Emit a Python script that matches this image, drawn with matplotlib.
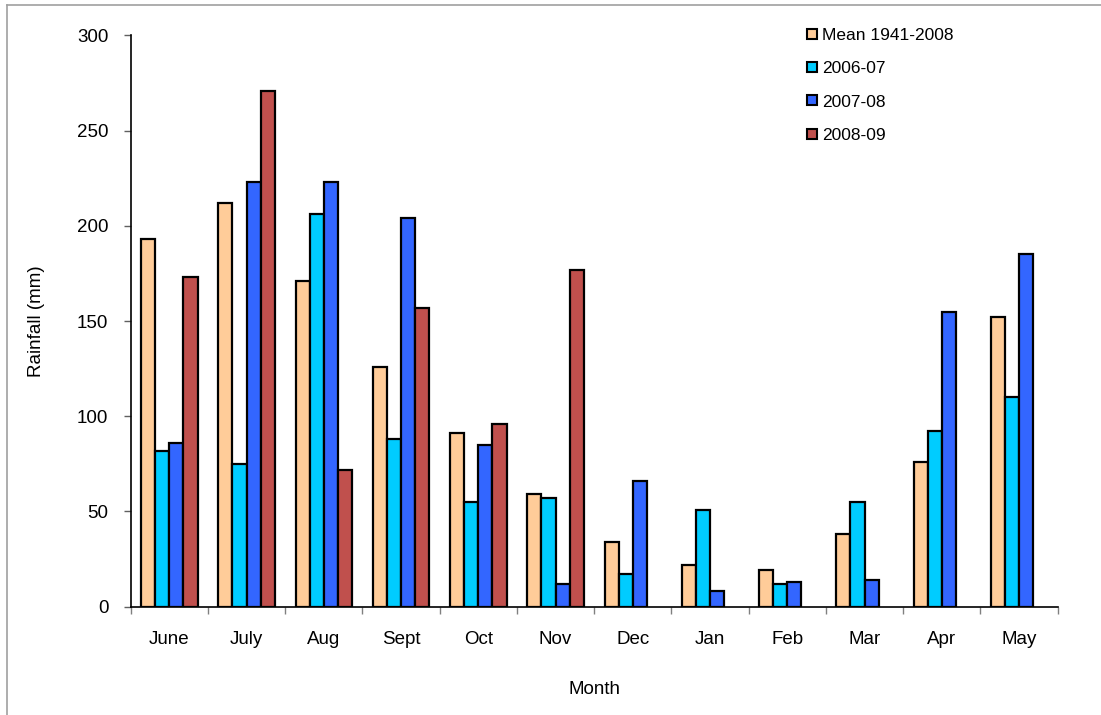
import matplotlib
matplotlib.use("Agg")
import matplotlib.pyplot as plt
import numpy as np
from matplotlib.lines import Line2D

months = ["June", "July", "Aug", "Sept", "Oct", "Nov", "Dec", "Jan", "Feb", "Mar", "Apr", "May"]
series_names = ["Mean 1941-2008", "2006-07", "2007-08", "2008-09"]
mean_1941_2008 = [193, 212, 171, 126, 91, 59, 34, 22, 19, 38, 76, 152]
rain_2006_07 = [82, 75, 206, 88, 55, 57, 17, 51, 12, 55, 92, 110]
rain_2007_08 = [86, 223, 223, 204, 85, 12, 66, 8, 13, 14, 155, 185]
rain_2008_09 = [173, 271, 72, 157, 96, 177, np.nan, np.nan, np.nan, np.nan, np.nan, np.nan]
colors = ["#FFCC99", "#00CCFF", "#3366FF", "#C0504D"]


def main() -> None:
    plt.rcParams["font.family"] = ["Liberation Sans", "DejaVu Sans"]
    fig = plt.figure(figsize=(11.01, 7.15), dpi=100)
    ax = fig.add_axes([0.1187, 0.1515, 0.842, 0.799])

    x = np.arange(len(months))
    width = 0.183
    all_series = [mean_1941_2008, rain_2006_07, rain_2007_08, rain_2008_09]
    for i, (vals, name, col) in enumerate(zip(all_series, series_names, colors)):
        offs = (i - 1.5) * width
        ax.bar(x + offs, vals, width, color=col, edgecolor="black", linewidth=1.6, label=name)

    ax.set_xlim(-0.5, len(months) - 0.5)
    ax.set_ylim(0, 300)
    ax.set_yticks(range(0, 301, 50))
    ax.set_xticks(x)
    ax.set_xticklabels(months)
    ax.set_xticks(np.arange(-0.5, len(months), 1.0), minor=True)
    ax.tick_params(axis="x", which="major", length=0, pad=17.5, labelsize=13.5)
    ax.tick_params(axis="x", which="minor", length=5, width=1, color="#808080")
    ax.tick_params(axis="y", length=5, width=1, color="#606060", labelsize=13.5, pad=11)
    for side in ["top", "right"]:
        ax.spines[side].set_visible(False)
    ax.spines["left"].set_linewidth(1.2)
    ax.spines["bottom"].set_linewidth(1.2)

    ax.set_ylabel("Rainfall (mm)", fontsize=13.5, labelpad=23)
    ax.set_xlabel("Month", fontsize=13.5, labelpad=24)

    handles = [
        Line2D([], [], linestyle="none", marker="s", markersize=7.5,
               markerfacecolor=c, markeredgecolor="black", markeredgewidth=1.5)
        for c in colors
    ]
    fig.legend(handles, series_names, loc="upper left",
               bbox_to_anchor=(800 / 1101, 1 - 21 / 715), frameon=False,
               fontsize=12.5, handlelength=0.6, handletextpad=0.25,
               labelspacing=1.04, borderaxespad=0)

    # outer frame (only top and left show in the picture)
    fig.add_artist(Line2D([7 / 1101, 1.0], [1 - 5 / 715, 1 - 5 / 715],
                          transform=fig.transFigure, color="#A0A0A0", linewidth=1.2))
    fig.add_artist(Line2D([7 / 1101, 7 / 1101], [0.0, 1 - 5 / 715],
                          transform=fig.transFigure, color="#A0A0A0", linewidth=1.2))

    fig.savefig("out.png", dpi=100)
    plt.close(fig)


if __name__ == "__main__":
    main()
